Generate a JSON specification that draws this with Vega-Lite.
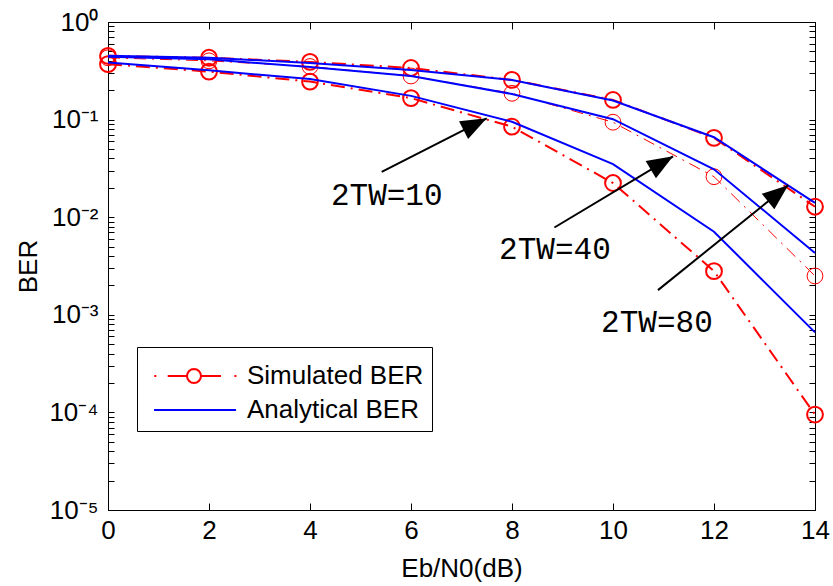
{
  "$schema": "https://vega.github.io/schema/vega-lite/v6.json",
  "width": 707,
  "height": 488,
  "autosize": {"type": "none"},
  "padding": {"left": 108, "top": 22, "right": 18, "bottom": 76},
  "background": "white",
  "config": {
    "view": {"stroke": "black", "strokeWidth": 1},
    "axis": {
      "grid": false,
      "domainColor": "black",
      "tickColor": "black",
      "labelColor": "black",
      "titleColor": "black",
      "labelFont": "Liberation Sans",
      "titleFont": "Liberation Sans",
      "labelFontSize": 26,
      "titleFontSize": 26,
      "titleFontWeight": "normal",
      "labelFlush": false,
      "labelOverlap": false
    }
  },
  "datasets": {
    "ber": [
      {"x": 0, "ber": 0.45, "type": "Simulated BER", "tw": "80"},
      {"x": 2, "ber": 0.43, "type": "Simulated BER", "tw": "80"},
      {"x": 4, "ber": 0.39, "type": "Simulated BER", "tw": "80"},
      {"x": 6, "ber": 0.338, "type": "Simulated BER", "tw": "80"},
      {"x": 8, "ber": 0.255, "type": "Simulated BER", "tw": "80"},
      {"x": 10, "ber": 0.159, "type": "Simulated BER", "tw": "80"},
      {"x": 12, "ber": 0.065, "type": "Simulated BER", "tw": "80"},
      {"x": 14, "ber": 0.0128, "type": "Simulated BER", "tw": "80"},
      {"x": 0, "ber": 0.43, "type": "Simulated BER", "tw": "40"},
      {"x": 2, "ber": 0.40, "type": "Simulated BER", "tw": "40"},
      {"x": 4, "ber": 0.35, "type": "Simulated BER", "tw": "40"},
      {"x": 6, "ber": 0.28, "type": "Simulated BER", "tw": "40"},
      {"x": 8, "ber": 0.186, "type": "Simulated BER", "tw": "40"},
      {"x": 10, "ber": 0.094, "type": "Simulated BER", "tw": "40"},
      {"x": 12, "ber": 0.026, "type": "Simulated BER", "tw": "40"},
      {"x": 14, "ber": 0.0025, "type": "Simulated BER", "tw": "40"},
      {"x": 0, "ber": 0.37, "type": "Simulated BER", "tw": "10"},
      {"x": 2, "ber": 0.31, "type": "Simulated BER", "tw": "10"},
      {"x": 4, "ber": 0.245, "type": "Simulated BER", "tw": "10"},
      {"x": 6, "ber": 0.166, "type": "Simulated BER", "tw": "10"},
      {"x": 8, "ber": 0.0846, "type": "Simulated BER", "tw": "10"},
      {"x": 10, "ber": 0.0224, "type": "Simulated BER", "tw": "10"},
      {"x": 12, "ber": 0.0028, "type": "Simulated BER", "tw": "10"},
      {"x": 14, "ber": 0.000095, "type": "Simulated BER", "tw": "10"},
      {"x": 0, "ber": 0.45, "type": "Analytical BER", "tw": "80"},
      {"x": 2, "ber": 0.43, "type": "Analytical BER", "tw": "80"},
      {"x": 4, "ber": 0.38, "type": "Analytical BER", "tw": "80"},
      {"x": 6, "ber": 0.322, "type": "Analytical BER", "tw": "80"},
      {"x": 8, "ber": 0.255, "type": "Analytical BER", "tw": "80"},
      {"x": 10, "ber": 0.157, "type": "Analytical BER", "tw": "80"},
      {"x": 12, "ber": 0.066, "type": "Analytical BER", "tw": "80"},
      {"x": 14, "ber": 0.014, "type": "Analytical BER", "tw": "80"},
      {"x": 0, "ber": 0.44, "type": "Analytical BER", "tw": "40"},
      {"x": 2, "ber": 0.415, "type": "Analytical BER", "tw": "40"},
      {"x": 4, "ber": 0.345, "type": "Analytical BER", "tw": "40"},
      {"x": 6, "ber": 0.28, "type": "Analytical BER", "tw": "40"},
      {"x": 8, "ber": 0.183, "type": "Analytical BER", "tw": "40"},
      {"x": 10, "ber": 0.101, "type": "Analytical BER", "tw": "40"},
      {"x": 12, "ber": 0.031, "type": "Analytical BER", "tw": "40"},
      {"x": 14, "ber": 0.0043, "type": "Analytical BER", "tw": "40"},
      {"x": 0, "ber": 0.385, "type": "Analytical BER", "tw": "10"},
      {"x": 2, "ber": 0.32, "type": "Analytical BER", "tw": "10"},
      {"x": 4, "ber": 0.26, "type": "Analytical BER", "tw": "10"},
      {"x": 6, "ber": 0.175, "type": "Analytical BER", "tw": "10"},
      {"x": 8, "ber": 0.095, "type": "Analytical BER", "tw": "10"},
      {"x": 10, "ber": 0.035, "type": "Analytical BER", "tw": "10"},
      {"x": 12, "ber": 0.0071, "type": "Analytical BER", "tw": "10"},
      {"x": 14, "ber": 0.00066, "type": "Analytical BER", "tw": "10"}
    ],
    "notes": [
      {"label": "2TW=10", "lx": 5.52, "ly": 0.0165, "ax": 5.42, "ay": 0.0292, "bx": 7.50, "by": 0.103},
      {"label": "2TW=40", "lx": 8.85, "ly": 0.00466, "ax": 8.84, "ay": 0.00784, "bx": 11.19, "by": 0.0421},
      {"label": "2TW=80", "lx": 10.87, "ly": 0.000824, "ax": 10.89, "ay": 0.00179, "bx": 13.47, "by": 0.0213}
    ]
  },
  "resolve": {"axis": {"x": "independent", "y": "independent"}},
  "layer": [
    {
      "data": {"name": "ber"},
      "transform": [{"filter": "datum.type === 'Simulated BER' && datum.tw !== '40'"}],
      "mark": {"type": "line", "color": "#ff0000", "strokeWidth": 2, "strokeDash": [14, 6, 2, 6]},
      "encoding": {
        "x": {
          "field": "x", "type": "quantitative",
          "scale": {"domain": [0, 14], "nice": false, "zero": false},
          "axis": {
            "orient": "bottom", "values": [0, 2, 4, 6, 8, 10, 12, 14],
            "title": "Eb/N0(dB)", "tickSize": -7, "labelPadding": 14,
            "titleX": 353.5, "titleY": 58, "titleBaseline": "middle", "titleAlign": "center"
          }
        },
        "y": {
          "field": "ber", "type": "quantitative",
          "scale": {"type": "log", "domain": [0.00001, 1], "nice": false},
          "axis": {
            "orient": "left",
            "values": [0.00001, 0.00002, 0.00003, 0.00004, 0.00005, 0.00006, 0.00007, 0.00008, 0.00009,
                       0.0001, 0.0002, 0.0003, 0.0004, 0.0005, 0.0006, 0.0007, 0.0008, 0.0009,
                       0.001, 0.002, 0.003, 0.004, 0.005, 0.006, 0.007, 0.008, 0.009,
                       0.01, 0.02, 0.03, 0.04, 0.05, 0.06, 0.07, 0.08, 0.09,
                       0.1, 0.2, 0.3, 0.4, 0.5, 0.6, 0.7, 0.8, 0.9, 1],
            "labelExpr": "abs(log(datum.value)/LN10 - round(log(datum.value)/LN10)) < 0.001 ? '10' + ['⁰','⁻¹','⁻²','⁻³','⁻⁴','⁻⁵'][-round(log(datum.value)/LN10)] : ''",
            "title": "BER", "tickSize": -6, "labelPadding": 16,
            "titleX": -80, "titleY": 244, "titleAngle": 270, "titleBaseline": "middle", "titleAlign": "center"
          }
        },
        "detail": {"field": "tw"}
      }
    },
    {
      "data": {"name": "ber"},
      "transform": [{"filter": "datum.type === 'Simulated BER' && datum.tw === '40'"}],
      "mark": {"type": "line", "color": "#ff0000", "strokeWidth": 1, "strokeDash": [12, 6, 2, 6]},
      "encoding": {
        "x": {
          "field": "x", "type": "quantitative",
          "scale": {"domain": [0, 14], "nice": false, "zero": false},
          "axis": {"orient": "top", "values": [0, 2, 4, 6, 8, 10, 12, 14], "labels": false, "title": null, "tickSize": -7}
        },
        "y": {
          "field": "ber", "type": "quantitative",
          "scale": {"type": "log", "domain": [0.00001, 1], "nice": false},
          "axis": {
            "orient": "right", "labels": false, "title": null, "tickSize": -6,
            "values": [0.00001, 0.00002, 0.00003, 0.00004, 0.00005, 0.00006, 0.00007, 0.00008, 0.00009,
                       0.0001, 0.0002, 0.0003, 0.0004, 0.0005, 0.0006, 0.0007, 0.0008, 0.0009,
                       0.001, 0.002, 0.003, 0.004, 0.005, 0.006, 0.007, 0.008, 0.009,
                       0.01, 0.02, 0.03, 0.04, 0.05, 0.06, 0.07, 0.08, 0.09,
                       0.1, 0.2, 0.3, 0.4, 0.5, 0.6, 0.7, 0.8, 0.9, 1]
          }
        }
      }
    },
    {
      "data": {"name": "ber"},
      "transform": [{"filter": "datum.type === 'Simulated BER' && datum.tw !== '40'"}],
      "mark": {"type": "point", "shape": "circle", "filled": false, "color": "#ff0000", "strokeWidth": 2, "size": 250, "opacity": 1},
      "encoding": {
        "x": {"field": "x", "type": "quantitative", "axis": null},
        "y": {"field": "ber", "type": "quantitative", "axis": null}
      }
    },
    {
      "data": {"name": "ber"},
      "transform": [{"filter": "datum.type === 'Simulated BER' && datum.tw === '40'"}],
      "mark": {"type": "point", "shape": "circle", "filled": false, "color": "#ff0000", "strokeWidth": 1, "size": 250, "opacity": 1},
      "encoding": {
        "x": {"field": "x", "type": "quantitative", "axis": null},
        "y": {"field": "ber", "type": "quantitative", "axis": null}
      }
    },
    {
      "data": {"name": "ber"},
      "transform": [{"filter": "datum.type === 'Analytical BER'"}],
      "mark": {"type": "line", "strokeWidth": 2},
      "encoding": {
        "x": {"field": "x", "type": "quantitative", "axis": null},
        "y": {"field": "ber", "type": "quantitative", "axis": null},
        "detail": {"field": "tw"},
        "color": {
          "field": "type", "type": "nominal",
          "scale": {"domain": ["Simulated BER", "Analytical BER"], "range": ["#ff0000", "#0000ff"]},
          "legend": {
            "orient": "none", "legendX": 29, "legendY": 325, "title": null,
            "padding": 8, "strokeColor": "black", "fillColor": "white",
            "labelFont": "Liberation Sans", "labelFontSize": 26, "labelColor": "black", "labelLimit": 400,
            "labelOffset": 60, "symbolSize": 1600, "rowPadding": -3, "symbolStrokeWidth": 2,
            "encode": {
              "symbols": {
                "update": {
                  "shape": {"signal": "datum.value === 'Simulated BER' ? 'M-0.585,0L-0.485,0M0.085,0L1.05,0M1.75,0L2.75,0M3.42,0L3.52,0M1.75,0L1.723,0.134L1.647,0.247L1.534,0.323L1.4,0.35L1.266,0.323L1.153,0.247L1.077,0.134L1.05,0L1.077,-0.134L1.153,-0.247L1.266,-0.323L1.4,-0.35L1.534,-0.323L1.647,-0.247L1.723,-0.134Z' : 'M-0.6,0L3.5,0'"},
                  "size": {"value": 1600},
                  "strokeWidth": {"value": 2},
                  "fill": {"value": "transparent"},
                  "stroke": {"signal": "datum.value === 'Simulated BER' ? '#ff0000' : '#0000ff'"},
                  "strokeDash": {"value": []},
                  "opacity": {"value": 1}
                }
              }
            }
          }
        }
      }
    },
    {
      "data": {"name": "notes"},
      "mark": {"type": "rule", "color": "black", "strokeWidth": 2},
      "encoding": {
        "x": {"field": "ax", "type": "quantitative", "axis": null},
        "y": {"field": "ay", "type": "quantitative", "axis": null},
        "x2": {"field": "bx"},
        "y2": {"field": "by"}
      }
    },
    {
      "data": {"name": "notes"},
      "transform": [{"filter": "datum.label === '2TW=10'"}],
      "mark": {"type": "point", "shape": "M0,0L-2,-0.77L-2,0.77Z", "filled": true, "color": "black", "size": 676, "angle": 333, "opacity": 1, "strokeWidth": 0},
      "encoding": {
        "x": {"field": "bx", "type": "quantitative", "axis": null},
        "y": {"field": "by", "type": "quantitative", "axis": null}
      }
    },
    {
      "data": {"name": "notes"},
      "transform": [{"filter": "datum.label === '2TW=40'"}],
      "mark": {"type": "point", "shape": "M0,0L-2,-0.77L-2,0.77Z", "filled": true, "color": "black", "size": 676, "angle": 329, "opacity": 1, "strokeWidth": 0},
      "encoding": {
        "x": {"field": "bx", "type": "quantitative", "axis": null},
        "y": {"field": "by", "type": "quantitative", "axis": null}
      }
    },
    {
      "data": {"name": "notes"},
      "transform": [{"filter": "datum.label === '2TW=80'"}],
      "mark": {"type": "point", "shape": "M0,0L-2,-0.77L-2,0.77Z", "filled": true, "color": "black", "size": 676, "angle": 321, "opacity": 1, "strokeWidth": 0},
      "encoding": {
        "x": {"field": "bx", "type": "quantitative", "axis": null},
        "y": {"field": "by", "type": "quantitative", "axis": null}
      }
    },
    {
      "data": {"name": "notes"},
      "mark": {"type": "text", "font": "Liberation Mono", "fontSize": 31, "align": "center", "baseline": "middle", "color": "black"},
      "encoding": {
        "x": {"field": "lx", "type": "quantitative", "axis": null},
        "y": {"field": "ly", "type": "quantitative", "axis": null},
        "text": {"field": "label"}
      }
    }
  ]
}
